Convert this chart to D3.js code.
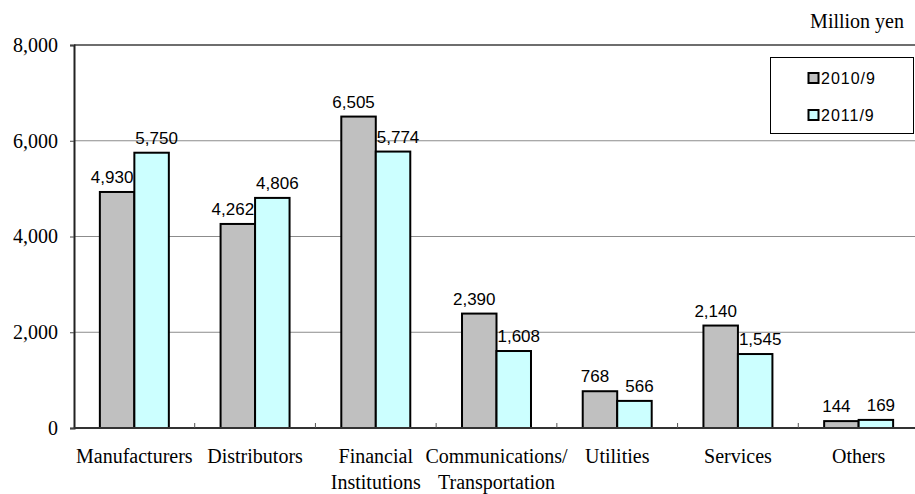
<!DOCTYPE html>
<html>
<head>
<meta charset="utf-8">
<script src="https://cdn.jsdelivr.net/npm/d3@7"></script>
<style>
  html, body { margin: 0; padding: 0; background: #fff; }
  svg { display: block; }
</style>
</head>
<body>
<svg id="chart" width="915" height="494"></svg>
<script>
// Sector categories (multi-line labels split on "\n")
const categories = [
  "Manufacturers",
  "Distributors",
  "Financial\nInstitutions",
  "Communications/\nTransportation",
  "Utilities",
  "Services",
  "Others"
];
const seriesNames = ["2010/9", "2011/9"];
const values2010 = [4930, 4262, 6505, 2390, 768, 2140, 144];
const values2011 = [5750, 4806, 5774, 1608, 566, 1545, 169];
const yTicks = [0, 2000, 4000, 6000, 8000];
const unitLabel = "Million yen";

const colors = { "2010/9": "#c0c0c0", "2011/9": "#ccffff" };

const rows = categories.map((c, i) => ({
  category: c,
  values: [
    { series: seriesNames[0], value: values2010[i] },
    { series: seriesNames[1], value: values2011[i] }
  ]
}));

const svg = d3.select("#chart");
const plotLeft = 74, plotRight = 919, plotTop = 45, plotBottom = 428;

const x = d3.scaleBand().domain(categories).range([plotLeft, plotRight]).paddingInner(0).paddingOuter(0);
const x1 = d3.scaleBand().domain(seriesNames).range([0, x.bandwidth()]).paddingInner(0).paddingOuter(0.75);
const y = d3.scaleLinear().domain([0, 8000]).range([plotBottom, plotTop]);

const fmt = d3.format(",");
const serif = "'Liberation Serif', 'Times New Roman', serif";
const sans = "'Liberation Sans', Arial, sans-serif";

// horizontal gridlines
svg.append("g")
  .selectAll("line")
  .data(yTicks.filter(d => d > 0))
  .join("line")
  .attr("x1", plotLeft).attr("x2", plotRight)
  .attr("y1", d => y(d)).attr("y2", d => y(d))
  .attr("stroke", d => d === 8000 ? "#6e6e6e" : "#8c8c8c")
  .attr("stroke-width", d => d === 8000 ? 2 : 1);

// y axis
const yAxis = svg.append("g")
  .attr("transform", `translate(${plotLeft},0)`)
  .call(d3.axisLeft(y).tickValues(yTicks).tickSize(4).tickPadding(12).tickFormat(fmt));
yAxis.select(".domain").attr("stroke", "#222").attr("stroke-width", 2);
yAxis.selectAll(".tick line").attr("stroke", "#444");
yAxis.selectAll(".tick text")
  .attr("font-family", serif).attr("font-size", 20).attr("fill", "#000");

// bars
const groups = svg.append("g")
  .selectAll("g")
  .data(rows)
  .join("g")
  .attr("transform", d => `translate(${x(d.category)},0)`);

groups.selectAll("rect")
  .data(d => d.values)
  .join("rect")
  .attr("x", d => x1(d.series))
  .attr("y", d => y(d.value))
  .attr("width", x1.bandwidth())
  .attr("height", d => y(0) - y(d.value))
  .attr("fill", d => colors[d.series])
  .attr("stroke", "#000")
  .attr("stroke-width", 2);

// value labels
groups.selectAll("text")
  .data(d => d.values)
  .join("text")
  .attr("x", (d, i) => x1(d.series) + x1.bandwidth() / 2 + (i === 0 ? -5 : 5))
  .attr("y", d => y(d.value) - 9)
  .attr("text-anchor", "middle")
  .attr("font-family", sans)
  .attr("font-size", 17)
  .attr("fill", "#000")
  .text(d => fmt(d.value));

// x axis line and category dividers
svg.append("line")
  .attr("x1", plotLeft).attr("x2", plotRight)
  .attr("y1", plotBottom).attr("y2", plotBottom)
  .attr("stroke", "#333").attr("stroke-width", 2);
svg.append("g")
  .selectAll("line")
  .data(categories.slice(1))
  .join("line")
  .attr("x1", d => x(d)).attr("x2", d => x(d))
  .attr("y1", plotBottom).attr("y2", plotBottom - 5)
  .attr("stroke", "#555").attr("stroke-width", 1);

// category labels
const catLabels = svg.append("g")
  .selectAll("text")
  .data(categories)
  .join("text")
  .attr("x", d => x(d) + x.bandwidth() / 2)
  .attr("y", 463)
  .attr("text-anchor", "middle")
  .attr("font-family", serif)
  .attr("font-size", 20)
  .attr("fill", "#000");
catLabels.selectAll("tspan")
  .data(d => d.split("\n").map(t => ({ t, c: d })))
  .join("tspan")
  .attr("x", d => x(d.c) + x.bandwidth() / 2)
  .attr("dy", (d, i) => i === 0 ? 0 : 25.5)
  .text(d => d.t);

// unit label
svg.append("text")
  .attr("x", 904).attr("y", 28)
  .attr("text-anchor", "end")
  .attr("font-family", serif).attr("font-size", 20)
  .attr("fill", "#000")
  .text(unitLabel);

// legend
const legend = svg.append("g");
legend.append("rect")
  .attr("x", 770.5).attr("y", 57.5)
  .attr("width", 143).attr("height", 76)
  .attr("fill", "#fff").attr("stroke", "#000").attr("stroke-width", 1);
const items = legend.selectAll("g.item")
  .data(seriesNames)
  .join("g")
  .attr("class", "item")
  .attr("transform", (d, i) => `translate(808,${72.5 + i * 37})`);
items.append("rect")
  .attr("x", 0.5).attr("y", 0.5).attr("width", 10).attr("height", 10)
  .attr("fill", d => colors[d]).attr("stroke", "#000").attr("stroke-width", 2);
items.append("text")
  .attr("x", 13).attr("y", 11)
  .attr("font-family", sans).attr("font-size", 16)
  .attr("letter-spacing", 1)
  .attr("fill", "#000")
  .text(d => d);
</script>
</body>
</html>
